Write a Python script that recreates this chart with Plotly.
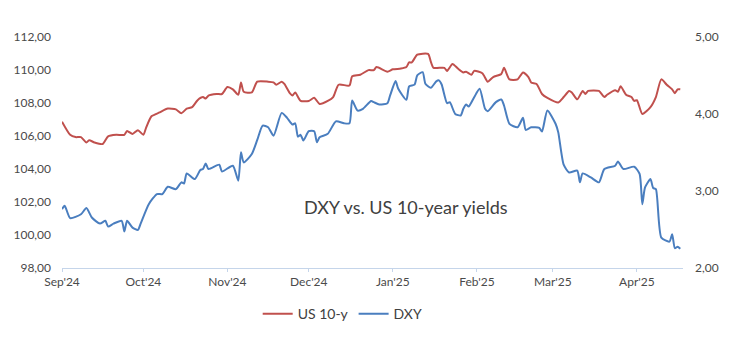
import pandas as pd
import plotly.graph_objects as go

# US 10-year yield (right axis, %)
us10_dates = [
    "2024-09-01", "2024-09-04", "2024-09-06", "2024-09-08", "2024-09-10", "2024-09-11", "2024-09-13",
    "2024-09-16", "2024-09-18", "2024-09-21", "2024-09-24", "2024-09-25", "2024-09-27", "2024-09-29",
    "2024-10-01", "2024-10-02", "2024-10-04", "2024-10-07", "2024-10-10", "2024-10-13", "2024-10-15",
    "2024-10-17", "2024-10-19", "2024-10-21", "2024-10-23", "2024-10-24", "2024-10-25", "2024-10-28",
    "2024-10-30", "2024-11-01", "2024-11-03", "2024-11-05", "2024-11-06", "2024-11-07", "2024-11-10",
    "2024-11-12", "2024-11-16", "2024-11-18", "2024-11-19", "2024-11-21", "2024-11-22", "2024-11-24",
    "2024-11-25", "2024-11-26", "2024-11-28", "2024-12-01", "2024-12-03", "2024-12-05", "2024-12-08",
    "2024-12-10", "2024-12-12", "2024-12-16", "2024-12-17", "2024-12-20", "2024-12-23", "2024-12-25",
    "2024-12-26", "2024-12-30", "2025-01-01", "2025-01-04", "2025-01-06", "2025-01-07", "2025-01-08",
    "2025-01-10", "2025-01-14", "2025-01-15", "2025-01-16", "2025-01-20", "2025-01-21", "2025-01-23",
    "2025-01-25", "2025-01-27", "2025-01-28", "2025-01-30", "2025-01-31", "2025-02-03", "2025-02-05",
    "2025-02-07", "2025-02-10", "2025-02-11", "2025-02-13", "2025-02-16", "2025-02-18", "2025-02-20",
    "2025-02-21", "2025-02-23", "2025-02-25", "2025-02-27", "2025-03-03", "2025-03-05", "2025-03-07",
    "2025-03-08", "2025-03-10", "2025-03-12", "2025-03-13", "2025-03-14", "2025-03-18", "2025-03-20",
    "2025-03-21", "2025-03-24", "2025-03-25", "2025-03-26", "2025-03-28", "2025-03-30", "2025-03-31",
    "2025-04-01", "2025-04-03", "2025-04-06", "2025-04-08", "2025-04-10", "2025-04-12", "2025-04-14",
    "2025-04-15", "2025-04-16", "2025-04-17",
]
us10_values = [
    3.90, 3.73, 3.70, 3.70, 3.63, 3.66, 3.63,
    3.61, 3.71, 3.73, 3.73, 3.78, 3.74, 3.79,
    3.73, 3.82, 3.97, 4.02, 4.07, 4.06, 4.01,
    4.07, 4.09, 4.18, 4.22, 4.20, 4.24, 4.26,
    4.26, 4.35, 4.32, 4.25, 4.41, 4.29, 4.28,
    4.42, 4.42, 4.41, 4.38, 4.42, 4.39, 4.27,
    4.24, 4.28, 4.17, 4.17, 4.21, 4.13, 4.17,
    4.22, 4.38, 4.37, 4.49, 4.51, 4.57, 4.57,
    4.61, 4.55, 4.58, 4.59, 4.61, 4.67, 4.67,
    4.77, 4.78, 4.68, 4.60, 4.60, 4.56, 4.65,
    4.59, 4.54, 4.55, 4.51, 4.56, 4.53, 4.42,
    4.48, 4.52, 4.60, 4.45, 4.45, 4.54, 4.48,
    4.41, 4.39, 4.26, 4.21, 4.15, 4.22, 4.30,
    4.28, 4.19, 4.30, 4.26, 4.30, 4.30, 4.22,
    4.25, 4.31, 4.29, 4.36, 4.25, 4.22, 4.17,
    4.18, 4.00, 4.09, 4.22, 4.45, 4.38, 4.32,
    4.27, 4.32, 4.32,
]

# DXY (left axis)
dxy_dates = [
    "2024-09-01", "2024-09-02", "2024-09-04", "2024-09-08", "2024-09-10", "2024-09-12", "2024-09-15",
    "2024-09-17", "2024-09-18", "2024-09-20", "2024-09-23", "2024-09-24", "2024-09-25", "2024-09-27",
    "2024-09-29", "2024-09-30", "2024-10-03", "2024-10-06", "2024-10-08", "2024-10-10", "2024-10-13",
    "2024-10-15", "2024-10-16", "2024-10-17", "2024-10-20", "2024-10-22", "2024-10-23", "2024-10-24",
    "2024-10-25", "2024-10-29", "2024-10-30", "2024-11-03", "2024-11-05", "2024-11-06", "2024-11-07",
    "2024-11-10", "2024-11-12", "2024-11-14", "2024-11-16", "2024-11-18", "2024-11-21", "2024-11-23",
    "2024-11-25", "2024-11-26", "2024-11-27", "2024-11-28", "2024-11-29", "2024-12-01", "2024-12-03",
    "2024-12-04", "2024-12-05", "2024-12-08", "2024-12-11", "2024-12-14", "2024-12-16", "2024-12-17",
    "2024-12-19", "2024-12-21", "2024-12-24", "2024-12-25", "2024-12-27", "2024-12-30", "2024-12-31",
    "2025-01-02", "2025-01-03", "2025-01-06", "2025-01-07", "2025-01-09", "2025-01-10", "2025-01-12",
    "2025-01-13", "2025-01-15", "2025-01-17", "2025-01-18", "2025-01-19", "2025-01-21", "2025-01-22",
    "2025-01-24", "2025-01-26", "2025-01-27", "2025-01-28", "2025-01-29", "2025-01-31", "2025-02-02",
    "2025-02-04", "2025-02-05", "2025-02-08", "2025-02-10", "2025-02-11", "2025-02-13", "2025-02-16",
    "2025-02-18", "2025-02-19", "2025-02-21", "2025-02-24", "2025-02-25", "2025-02-27", "2025-03-02",
    "2025-03-03", "2025-03-05", "2025-03-07", "2025-03-10", "2025-03-11", "2025-03-12", "2025-03-15",
    "2025-03-18", "2025-03-20", "2025-03-24", "2025-03-25", "2025-03-27", "2025-03-31", "2025-04-02",
    "2025-04-03", "2025-04-04", "2025-04-06", "2025-04-07", "2025-04-08", "2025-04-10", "2025-04-13",
    "2025-04-14", "2025-04-15", "2025-04-16", "2025-04-17",
]
dxy_values = [
    101.57, 101.77, 101.02, 101.26, 101.63, 101.06, 100.69,
    100.86, 100.51, 100.69, 100.86, 100.21, 100.86, 100.45,
    100.31, 100.69, 101.87, 102.48, 102.48, 102.92, 102.78,
    103.19, 103.12, 103.73, 103.39, 103.94, 104.00, 104.34,
    104.00, 104.26, 103.85, 104.20, 103.29, 105.01, 104.40,
    104.91, 105.76, 106.63, 106.53, 106.02, 107.40, 107.10,
    106.69, 106.77, 105.96, 106.07, 105.72, 106.29, 106.29,
    105.62, 105.92, 106.13, 106.89, 106.77, 106.77, 108.15,
    107.54, 107.65, 108.12, 108.05, 107.91, 107.99, 108.46,
    109.33, 108.86, 108.19, 109.00, 109.11, 109.67, 109.87,
    109.17, 108.92, 109.31, 109.37, 109.12, 107.99, 108.05,
    107.34, 107.24, 107.65, 107.91, 107.79, 108.35, 108.86,
    107.65, 107.50, 108.05, 108.21, 107.85, 106.74, 106.53,
    107.10, 106.37, 106.53, 106.49, 106.27, 107.54, 106.74,
    106.22, 104.26, 103.79, 103.90, 103.19, 103.73, 103.49,
    103.19, 104.00, 104.20, 104.46, 104.00, 104.14, 103.70,
    101.87, 102.88, 103.39, 102.85, 102.78, 99.84, 99.60,
    100.05, 99.20, 99.29, 99.17,
]

month_ticks = ["2024-09-01", "2024-10-01", "2024-11-01", "2024-12-01",
               "2025-01-01", "2025-02-01", "2025-03-01", "2025-04-01"]
month_labels = ["Sep'24", "Oct'24", "Nov'24", "Dec'24", "Jan'25", "Feb'25", "Mar'25", "Apr'25"]

left_ticks = [98, 100, 102, 104, 106, 108, 110, 112]
right_ticks = [2, 3, 4, 5]

RED = "#C0504D"
BLUE = "#4A7EBF"
FONT = "Lato"
TXT = "#4A4A4A"

fig = go.Figure()
fig.add_trace(go.Scatter(
    x=pd.to_datetime(us10_dates), y=us10_values, name="US 10-y", yaxis="y2",
    mode="lines", line=dict(color=RED, width=2, shape="spline", smoothing=0.6),
))
fig.add_trace(go.Scatter(
    x=pd.to_datetime(dxy_dates), y=dxy_values, name="DXY", yaxis="y",
    mode="lines", line=dict(color=BLUE, width=2, shape="spline", smoothing=0.6),
))

fig.update_layout(
    width=747, height=344,
    margin=dict(l=62, r=64, t=37, b=76),
    paper_bgcolor="white", plot_bgcolor="white",
    separators=",.",
    font=dict(family=FONT, size=12, color=TXT),
    showlegend=True,
    legend=dict(orientation="h", x=0.452, xanchor="center", y=-0.2, yanchor="middle",
                font=dict(family=FONT, size=14, color="#404040"),
                traceorder="normal", itemwidth=30),
    xaxis=dict(
        type="date", range=["2024-09-01", "2025-04-18"],
        tickmode="array", tickvals=month_ticks, ticktext=month_labels,
        showgrid=False, showline=True, linecolor="#C5D5EA", linewidth=1,
        ticks="outside", ticklen=3, tickcolor="#C5D5EA",
        tickfont=dict(family=FONT, size=12, color=TXT),
        zeroline=False,
    ),
    yaxis=dict(
        range=[98, 112], tickmode="array", tickvals=left_ticks, tickformat=".2f",
        showgrid=False, zeroline=False, showline=False, ticks="",
        ticklabelstandoff=10,
        tickfont=dict(family=FONT, size=12, color=TXT),
    ),
    yaxis2=dict(
        range=[2, 5], tickmode="array", tickvals=right_ticks, tickformat=".2f",
        overlaying="y", side="right",
        showgrid=False, zeroline=False, showline=False, ticks="",
        ticklabelstandoff=11,
        tickfont=dict(family=FONT, size=12, color=TXT),
    ),
    annotations=[dict(
        text="DXY vs. US 10-year yields", xref="paper", yref="paper",
        x=(406 - 62) / 621, y=(268 - 207) / 231, xanchor="center", yanchor="middle",
        showarrow=False, font=dict(family=FONT, size=18, color="#404040"),
    )],
)

fig.write_html("out.html")
